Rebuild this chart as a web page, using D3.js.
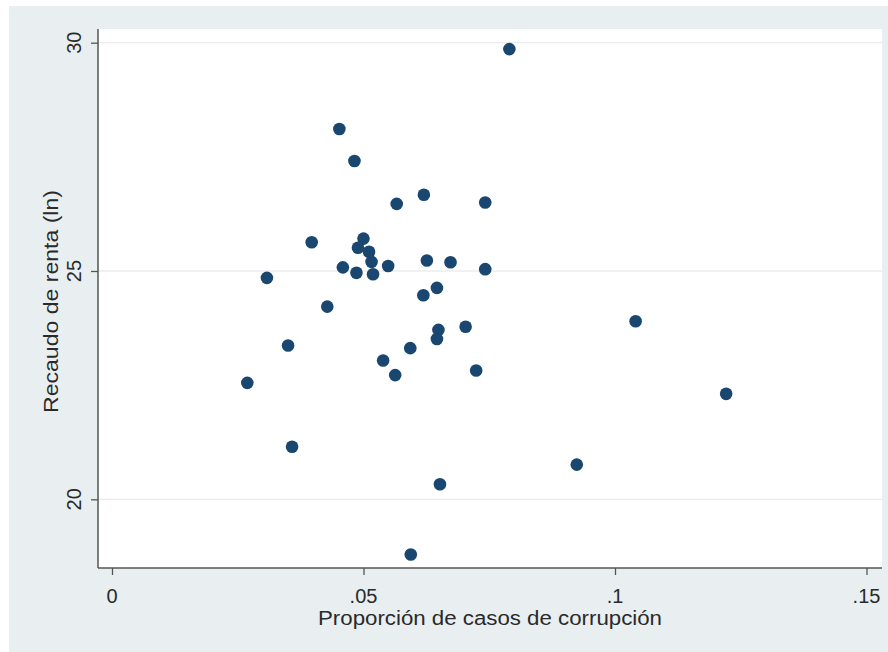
<!DOCTYPE html>
<html>
<head>
<meta charset="utf-8">
<script src="https://cdn.jsdelivr.net/npm/d3@7"></script>
<style>
  html, body { margin: 0; padding: 0; background: #ffffff; }
  svg { display: block; }
  text { font-family: "Liberation Sans", Arial, Helvetica, sans-serif; fill: #2a2a2a; }
</style>
</head>
<body>
<svg id="chart" width="888" height="652"></svg>
<script>
// Proporción de casos de corrupción (x) vs. recaudo de renta en logaritmo (y)
const corruption = [
  0.0790, 0.0452, 0.0482, 0.0566, 0.0620, 0.0742, 0.0397, 0.0500, 0.0489, 0.0511,
  0.0516, 0.0308, 0.0459, 0.0486, 0.0519, 0.0549, 0.0626, 0.0673, 0.0742, 0.0646,
  0.0619, 0.0428, 0.0649, 0.0646, 0.0703, 0.1041, 0.0350, 0.0593, 0.0539, 0.0563,
  0.0724, 0.0269, 0.1221, 0.0358, 0.0924, 0.0652, 0.0594
];
const revenueLn = [
  29.86, 28.11, 27.41, 26.47, 26.67, 26.50, 25.63, 25.71, 25.51, 25.42,
  25.20, 24.85, 25.08, 24.96, 24.93, 25.11, 25.23, 25.19, 25.04, 24.63,
  24.47, 24.22, 23.71, 23.51, 23.78, 23.90, 23.37, 23.31, 23.04, 22.72,
  22.82, 22.55, 22.31, 21.15, 20.76, 20.33, 18.79
];
const xTicks = [0, 0.05, 0.1, 0.15];
const xTickLabels = ["0", ".05", ".1", ".15"];
const yTicks = [20, 25, 30];
const yTickLabels = ["20", "25", "30"];
const xTitle = "Proporción de casos de corrupción";
const yTitle = "Recaudo de renta (ln)";

const svg = d3.select("#chart");

// Plot region bounds
const plot = { left: 98, right: 882, top: 29, bottom: 568 };

const x = d3.scaleLinear().domain([0, 0.15]).range([112, 866.5]);
const y = d3.scaleLinear().domain([20, 30]).range([499.3, 42.7]);

// Graph region background
svg.append("rect")
  .attr("x", 9).attr("y", 6).attr("width", 879).attr("height", 646)
  .attr("fill", "#e9eff1");

// Plot region
svg.append("rect")
  .attr("x", plot.left).attr("y", plot.top)
  .attr("width", plot.right - plot.left).attr("height", plot.bottom - plot.top)
  .attr("fill", "#ffffff");

// Horizontal grid lines
svg.append("g").selectAll("line").data(yTicks).join("line")
  .attr("x1", plot.left).attr("x2", plot.right)
  .attr("y1", d => y(d)).attr("y2", d => y(d))
  .attr("stroke", "#ececec").attr("stroke-width", 1.3);

// Y axis
const yAxis = d3.axisLeft(y).tickValues(yTicks).tickSize(7).tickFormat(() => "");
const gy = svg.append("g").attr("transform", `translate(${plot.left},0)`).call(yAxis);
gy.select(".domain").remove();
gy.selectAll(".tick line").attr("stroke", "#555").attr("stroke-width", 1.3);
svg.append("line")
  .attr("x1", plot.left).attr("x2", plot.left)
  .attr("y1", plot.top).attr("y2", plot.bottom)
  .attr("stroke", "#555").attr("stroke-width", 1.5);

svg.append("g").selectAll("text").data(yTicks).join("text")
  .attr("transform", d => `translate(81,${y(d)}) rotate(-90)`)
  .attr("text-anchor", "middle")
  .attr("font-size", 20)
  .text((d, i) => yTickLabels[i]);

// X axis
const xAxis = d3.axisBottom(x).tickValues(xTicks).tickSize(7).tickFormat(() => "");
const gx = svg.append("g").attr("transform", `translate(0,${plot.bottom})`).call(xAxis);
gx.select(".domain").remove();
gx.selectAll(".tick line").attr("stroke", "#555").attr("stroke-width", 1.3);
svg.append("line")
  .attr("x1", plot.left).attr("x2", plot.right)
  .attr("y1", plot.bottom).attr("y2", plot.bottom)
  .attr("stroke", "#555").attr("stroke-width", 1.5);

svg.append("g").selectAll("text").data(xTicks).join("text")
  .attr("x", d => x(d)).attr("y", 603)
  .attr("text-anchor", "middle")
  .attr("font-size", 20)
  .text((d, i) => xTickLabels[i]);

// Axis titles
svg.append("text")
  .attr("x", (plot.left + plot.right) / 2).attr("y", 625)
  .attr("text-anchor", "middle")
  .attr("font-size", 20)
  .attr("textLength", 344).attr("lengthAdjust", "spacingAndGlyphs")
  .text(xTitle);

svg.append("text")
  .attr("transform", `translate(58,${(plot.top + plot.bottom) / 2 + 3}) rotate(-90)`)
  .attr("text-anchor", "middle")
  .attr("font-size", 20)
  .attr("textLength", 223).attr("lengthAdjust", "spacingAndGlyphs")
  .text(yTitle);

// Scatter points
const points = corruption.map((c, i) => ({ c, r: revenueLn[i] }));
svg.append("g").selectAll("circle").data(points).join("circle")
  .attr("cx", d => x(d.c))
  .attr("cy", d => y(d.r))
  .attr("r", 6.3)
  .attr("fill", "#1a476f");
</script>
</body>
</html>
